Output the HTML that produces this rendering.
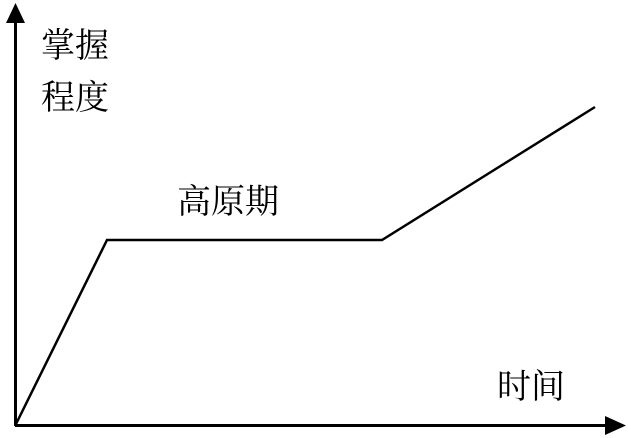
<!DOCTYPE html>
<html><head><meta charset="utf-8"><style>
html,body{margin:0;padding:0;background:#fff;width:628px;height:438px;overflow:hidden}
svg text{font-family:"Noto Serif CJK SC","Liberation Serif",serif;font-size:34px;fill:#000}
</style></head><body>
<svg width="628" height="438" viewBox="0 0 628 438">
<line x1="15.5" y1="426" x2="15.5" y2="20" stroke="#000" stroke-width="3"/>
<polygon points="15.5,3 6,23 25,23" fill="#000"/>
<line x1="15" y1="425.5" x2="608" y2="425.5" stroke="#000" stroke-width="3"/>
<polygon points="626,425.5 605,416 605,435" fill="#000"/>
<polyline points="16,424 107,240 382,240 595,107" fill="none" stroke="#000" stroke-width="2.5"/>
<text x="41" y="57">掌握</text>
<text x="41" y="109">程度</text>
<text x="177" y="213">高原期</text>
<text x="497" y="398">时间</text>
</svg>
</body></html>
